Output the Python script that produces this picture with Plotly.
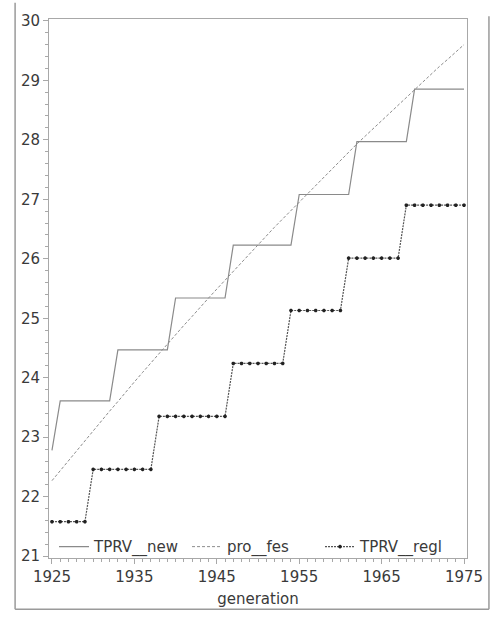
import plotly.graph_objects as go

# Generation years (one observation per year)
generation = list(range(1925, 1976))

# TPRV_new: stepwise series
tprv_new = ([22.78]
            + [23.61] * 7    # 1926-1932
            + [24.47] * 7    # 1933-1939
            + [25.34] * 7    # 1940-1946
            + [26.23] * 8    # 1947-1954
            + [27.08] * 7    # 1955-1961
            + [27.97] * 7    # 1962-1968
            + [28.85] * 7)   # 1969-1975

# pro_fes: smooth trend
pro_fes = [22.27, 22.44, 22.61, 22.78, 22.94, 23.11, 23.28, 23.44, 23.60, 23.77,
           23.93, 24.09, 24.25, 24.41, 24.56, 24.72, 24.88, 25.03, 25.19, 25.34,
           25.49, 25.64, 25.79, 25.94, 26.09, 26.24, 26.38, 26.53, 26.67, 26.81,
           26.96, 27.10, 27.24, 27.38, 27.52, 27.65, 27.79, 27.93, 28.06, 28.19,
           28.33, 28.46, 28.59, 28.72, 28.85, 28.97, 29.10, 29.23, 29.35, 29.48,
           29.60]

# TPRV_regl: stepwise series
tprv_regl = ([21.58] * 5     # 1925-1929
             + [22.46] * 8   # 1930-1937
             + [23.35] * 9   # 1938-1946
             + [24.24] * 7   # 1947-1953
             + [25.13] * 7   # 1954-1960
             + [26.01] * 7   # 1961-1967
             + [26.90] * 8)  # 1968-1975

x_ticks = [1925, 1935, 1945, 1955, 1965, 1975]
y_ticks = list(range(21, 31))

FONT = "DejaVu Sans"
TXT = "#3a3a3a"
AX = "#a8a8a8"

fig = go.Figure()
fig.add_trace(go.Scatter(
    x=generation, y=tprv_new, name="TPRV__new", mode="lines",
    line=dict(color="#8a8a8a", width=1.2)))
fig.add_trace(go.Scatter(
    x=generation, y=pro_fes, name="pro__fes", mode="lines",
    line=dict(color="#8c8c8c", width=1, dash="3px,2px")))
fig.add_trace(go.Scatter(
    x=generation, y=tprv_regl, name="TPRV__regl", mode="lines+markers",
    line=dict(color="#555555", width=1.2, dash="2px,1px"),
    marker=dict(symbol="asterisk-open", size=3, color="#222222",
                line=dict(color="#222222", width=1.2))))

fig.update_xaxes(
    range=[1924.64, 1975.36], tickmode="array", tickvals=x_ticks,
    ticktext=[str(v) for v in x_ticks],
    showgrid=False, zeroline=False,
    showline=True, linecolor=AX, linewidth=1, mirror=True,
    ticks="outside", ticklen=5, tickcolor=AX, tickwidth=1,
    minor=dict(dtick=1, tick0=1925, ticks="outside", ticklen=3,
               tickcolor=AX, tickwidth=1),
    tickfont=dict(family=FONT, size=15, color=TXT),
    title=dict(text="generation", standoff=8,
               font=dict(family=FONT, size=15, color=TXT)))
fig.update_yaxes(
    range=[20.97, 30.03], tickmode="array", tickvals=y_ticks,
    showgrid=False, zeroline=False,
    showline=True, linecolor=AX, linewidth=1, mirror=True,
    ticks="outside", ticklen=5, tickcolor=AX, tickwidth=1,
    minor=dict(dtick=0.2, tick0=21, ticks="outside", ticklen=3,
               tickcolor=AX, tickwidth=1),
    tickfont=dict(family=FONT, size=15, color=TXT))

# Outer frame around the whole graphic (left, right and bottom edges)
frame = dict(type="line", xref="paper", yref="paper",
             line=dict(color="#9a9a9a", width=1.5))
fig.add_shape(**frame, x0=-0.0811, x1=-0.0811, y0=-0.0949, y1=1.03)
fig.add_shape(**frame, x0=1.0525, x1=1.0525, y0=-0.0949, y1=1.005)
fig.add_shape(**frame, x0=-0.0811, x1=1.0525, y0=-0.0949, y1=-0.0949)

fig.update_layout(
    width=495, height=617,
    margin=dict(l=49, r=27, t=13, b=56),
    paper_bgcolor="white", plot_bgcolor="white",
    font=dict(family=FONT, size=15, color=TXT),
    legend=dict(orientation="h", x=0.012, y=-0.01, xanchor="left",
                yanchor="bottom", entrywidth=88, entrywidthmode="pixels",
                bgcolor="rgba(0,0,0,0)", itemwidth=30,
                font=dict(family=FONT, size=15, color=TXT)),
)

fig.write_html("out.html")
